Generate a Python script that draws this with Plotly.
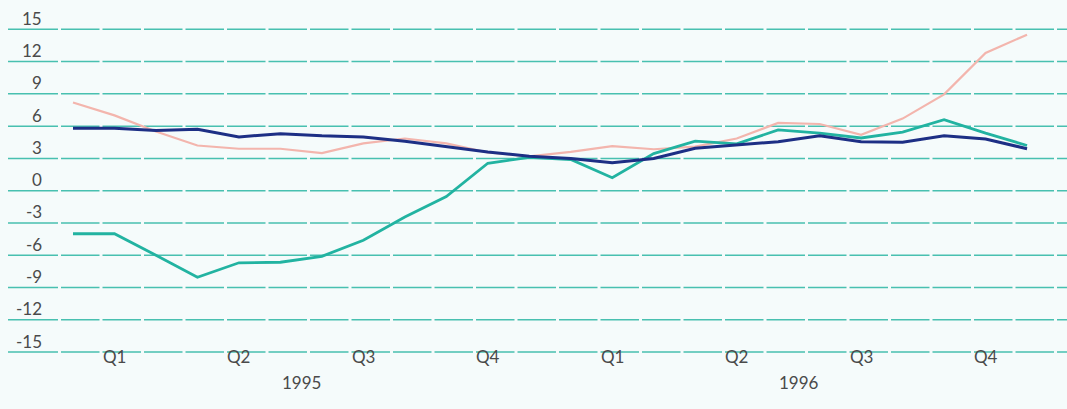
import plotly.graph_objects as go

# Monthly series, Jan 1995 .. Dec 1996 (percent change)
months = list(range(24))
series_blue = [5.8, 5.8, 5.6, 5.7, 5.0, 5.3, 5.1, 5.0, 4.6, 4.1, 3.6, 3.2,
               3.0, 2.6, 3.0, 3.95, 4.25, 4.55, 5.1, 4.55, 4.5, 5.1, 4.8, 3.9]
series_teal = [-4.0, -4.0, -6.0, -8.05, -6.7, -6.65, -6.1, -4.6, -2.45, -0.55, 2.55, 3.1,
               2.9, 1.2, 3.45, 4.6, 4.35, 5.65, 5.35, 4.9, 5.45, 6.6, 5.35, 4.2]
series_pink = [8.2, 7.0, 5.5, 4.2, 3.9, 3.9, 3.5, 4.4, 4.85, 4.4, 3.55, 3.2,
               3.6, 4.15, 3.85, 4.1, 4.85, 6.3, 6.2, 5.2, 6.7, 8.95, 12.8, 14.5]

y_ticks = [15, 12, 9, 6, 3, 0, -3, -6, -9, -12, -15]
quarter_labels = ["Q1", "Q2", "Q3", "Q4", "Q1", "Q2", "Q3", "Q4"]
quarter_pos = [1, 4, 7, 10, 13, 16, 19, 22]
year_labels = ["1995", "1996"]
year_pos = [5.5, 17.5]

W, H = 1067, 409
px_per_month = 41.48
x0_px = 73.0
x_range = [-x0_px / px_per_month, (W - x0_px) / px_per_month]
zero_px, px_per_unit = 190.7, 10.76
y_range = [(zero_px - H) / px_per_unit, zero_px / px_per_unit]

GRID = "#48c0b0"
TEXT = "#4a4a4a"
FONT = "Lato"
FSIZE = 17

fig = go.Figure()

# dashed horizontal rules, breaks fall halfway between months
dash = ",".join(["50px", "3px"] + ["38.5px", "3px"] * 30)
for v in y_ticks:
    fig.add_shape(type="line", xref="paper", yref="y",
                  x0=8 / W, x1=1, y0=v, y1=v,
                  line=dict(color=GRID, width=1.5, dash=dash), layer="below")
    fig.add_annotation(xref="paper", yref="y", x=44 / W, y=v, yshift=11,
                       text=str(v), showarrow=False, xanchor="right",
                       yanchor="middle",
                       font=dict(family=FONT, size=FSIZE, color=TEXT))

fig.add_trace(go.Scatter(x=months, y=series_pink, mode="lines",
                         line=dict(color="#f3b5ad", width=2.2)))
fig.add_trace(go.Scatter(x=months, y=series_teal, mode="lines",
                         line=dict(color="#22b3a1", width=2.8)))
fig.add_trace(go.Scatter(x=months, y=series_blue, mode="lines",
                         line=dict(color="#1d2f85", width=3)))

for lab, pos in zip(quarter_labels, quarter_pos):
    fig.add_annotation(x=pos, y=1 - 369 / H, xref="x", yref="paper",
                       text=lab, showarrow=False,
                       font=dict(family=FONT, size=FSIZE, color=TEXT))
for lab, pos in zip(year_labels, year_pos):
    fig.add_annotation(x=pos, y=1 - 395 / H, xref="x", yref="paper",
                       text=lab, showarrow=False,
                       font=dict(family=FONT, size=FSIZE, color=TEXT))

fig.update_layout(
    width=W, height=H,
    margin=dict(l=0, r=0, t=0, b=0),
    paper_bgcolor="#f5fbfb", plot_bgcolor="#f5fbfb",
    showlegend=False,
    xaxis=dict(range=x_range, visible=False, fixedrange=True),
    yaxis=dict(range=y_range, visible=False, fixedrange=True),
)

fig.write_html("out.html")
